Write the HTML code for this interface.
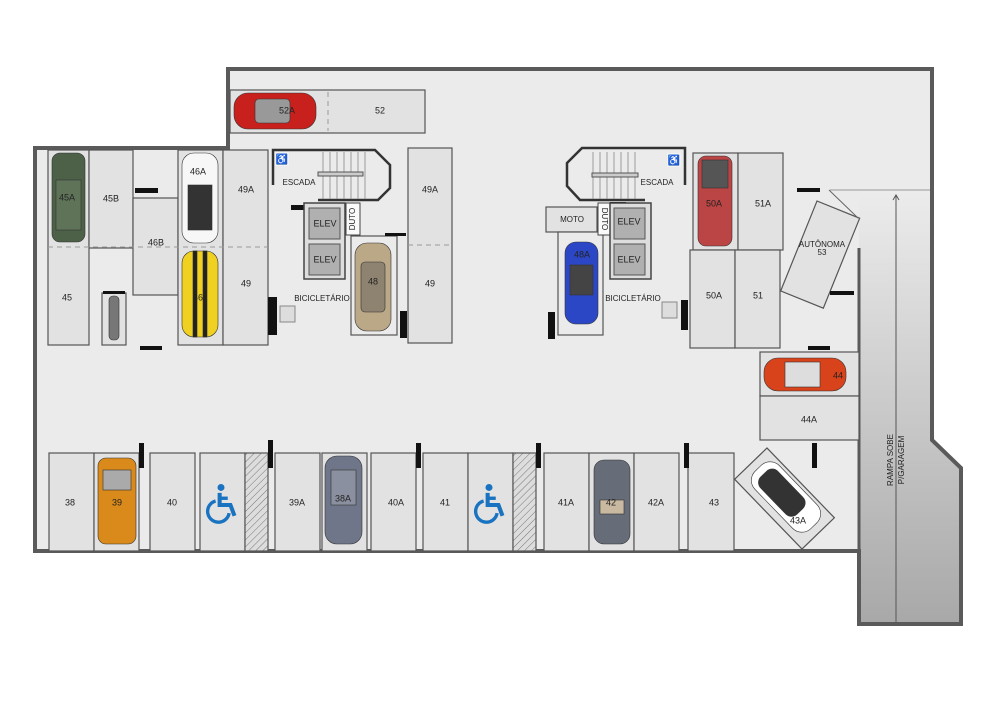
<!DOCTYPE html>
<html><head><meta charset="utf-8"><style>
html,body{margin:0;padding:0;background:#fff;}
svg{display:block;font-family:"Liberation Sans",sans-serif;}
text{font-size:9px;fill:#222;text-anchor:middle;dominant-baseline:middle;}
</style></head><body>
<svg width="1000" height="707" viewBox="0 0 1000 707" xmlns="http://www.w3.org/2000/svg">
<defs>
<pattern id="h" width="5" height="5" patternUnits="userSpaceOnUse" patternTransform="rotate(45)">
<rect width="5" height="5" fill="#ddd"/><line x1="0" y1="0" x2="0" y2="5" stroke="#777" stroke-width="1"/></pattern>
<linearGradient id="ramp" x1="0" y1="0" x2="0" y2="1"><stop offset="0" stop-color="#ececec"/><stop offset="1" stop-color="#a8a8a8"/></linearGradient>
<g id="wc"><circle cx="0" cy="-13" r="2.6" fill="#1a73c0"/><path d="M-1,-9 L-1,0 L7,0 L10,8" fill="none" stroke="#1a73c0" stroke-width="3"/><path d="M-4,-3 A8,8 0 1 0 6,6" fill="none" stroke="#1a73c0" stroke-width="2.5"/><path d="M-1,-5 L5,-5" stroke="#1a73c0" stroke-width="2.5"/></g>
</defs>
<path d="M35,148 L228,148 L228,69 L932,69 L932,440 L961,468 L961,624 L859,624 L859,551 L35,551 Z" fill="#ebebeb"/>
<path d="M859,248 L859,624 L961,624 L961,468 L932,440 L932,190 L859,190 Z" fill="url(#ramp)"/>
<line x1="830" y1="190" x2="932" y2="190" stroke="#999" stroke-width="1"/>
<line x1="896" y1="195" x2="896" y2="624" stroke="#555" stroke-width="1"/>
<path d="M893,200 L896,195 L899,200" fill="none" stroke="#555"/>
<text transform="translate(891,460) rotate(-90)" style="font-size:8px">RAMPA SOBE</text>
<text transform="translate(902,460) rotate(-90)" style="font-size:8px">P/GARAGEM</text>
<path d="M35,551 L35,148 L228,148 L228,69 L932,69 L932,440 L961,468 L961,624 L859,624 L859,551 Z" fill="none" stroke="#5a5a5a" stroke-width="4"/>
<line x1="859" y1="248" x2="859" y2="551" stroke="#5a5a5a" stroke-width="3"/>
<g fill="#e2e2e2" stroke="#555" stroke-width="1.2">
<rect x="230" y="90" width="195" height="43"/>
<rect x="48" y="150" width="41" height="195"/>
<rect x="89" y="150" width="44" height="98"/>
<rect x="133" y="198" width="45" height="97"/>
<rect x="178" y="150" width="45" height="195"/>
<rect x="223" y="150" width="45" height="195"/>
<rect x="102" y="293" width="24" height="52"/>
<rect x="408" y="148" width="44" height="195"/>
<rect x="351" y="236" width="46" height="99" fill="#ebebeb"/>
<rect x="546" y="207" width="51" height="25"/>
<rect x="558" y="232" width="45" height="103" fill="#ebebeb"/>
<rect x="693" y="153" width="45" height="97"/>
<rect x="738" y="153" width="45" height="97"/>
<rect x="690" y="250" width="45" height="98"/>
<rect x="735" y="250" width="45" height="98"/>
<rect x="760" y="352" width="99" height="44"/>
<rect x="760" y="396" width="99" height="44"/>
<rect x="0" y="0" width="46" height="97" transform="translate(817,201) rotate(22)"/>
<rect x="49" y="453" width="45" height="98"/>
<rect x="94" y="453" width="45" height="98"/>
<rect x="150" y="453" width="45" height="98"/>
<rect x="200" y="453" width="45" height="98"/>
<rect x="245" y="453" width="23" height="98" fill="url(#h)"/>
<rect x="275" y="453" width="45" height="98"/>
<rect x="322" y="453" width="45" height="98"/>
<rect x="371" y="453" width="45" height="98"/>
<rect x="423" y="453" width="45" height="98"/>
<rect x="468" y="453" width="45" height="98"/>
<rect x="513" y="453" width="23" height="98" fill="url(#h)"/>
<rect x="544" y="453" width="45" height="98"/>
<rect x="589" y="453" width="45" height="98"/>
<rect x="634" y="453" width="45" height="98"/>
<rect x="688" y="453" width="46" height="98"/>
<rect x="0" y="0" width="97" height="45" transform="translate(767,448) rotate(46)"/>
</g>
<g stroke="#999" stroke-dasharray="5,4" stroke-width="1">
<line x1="328" y1="92" x2="328" y2="131"/><line x1="48" y1="247" x2="268" y2="247"/><line x1="408" y1="245" x2="452" y2="245"/>
</g>
<g fill="#111">
<rect x="135" y="188" width="23" height="5"/><rect x="103" y="291" width="22" height="3"/><rect x="140" y="346" width="22" height="4"/>
<rect x="268" y="297" width="9" height="38"/><rect x="400" y="311" width="7" height="27"/><rect x="385" y="233" width="21" height="3"/>
<rect x="548" y="312" width="7" height="27"/><rect x="681" y="300" width="7" height="30"/><rect x="797" y="188" width="23" height="4"/>
<rect x="830" y="291" width="24" height="4"/><rect x="808" y="346" width="22" height="4"/>
<rect x="139" y="443" width="5" height="25"/><rect x="268" y="440" width="5" height="28"/><rect x="416" y="443" width="5" height="25"/>
<rect x="536" y="443" width="5" height="25"/><rect x="684" y="443" width="5" height="25"/><rect x="812" y="443" width="5" height="25"/>
<rect x="291" y="205" width="16" height="5"/><rect x="610" y="202" width="16" height="5"/>
</g>
<path d="M273,185 L273,150 L375,150 L390,165 L390,188 L378,200 L318,200" fill="none" stroke="#333" stroke-width="2.5"/>
<g stroke="#888" stroke-width="0.8"><line x1="323" y1="152" x2="323" y2="199"/><line x1="330" y1="152" x2="330" y2="199"/><line x1="337" y1="152" x2="337" y2="199"/><line x1="344" y1="152" x2="344" y2="199"/><line x1="351" y1="152" x2="351" y2="199"/><line x1="358" y1="152" x2="358" y2="199"/><line x1="365" y1="152" x2="365" y2="199"/></g>
<rect x="318" y="172" width="45" height="4" fill="#ccc" stroke="#555"/>
<rect x="275" y="152" width="14" height="14" fill="#f2f2f2"/><text x="282" y="160" style="font-size:10px">♿</text>
<text x="299" y="183" style="font-size:8px">ESCADA</text>
<rect x="304" y="203" width="41" height="76" fill="#ddd" stroke="#444" stroke-width="1.5"/>
<rect x="309" y="208" width="31" height="31" fill="#b0b0b0" stroke="#555"/><text x="325" y="224">ELEV</text>
<rect x="309" y="244" width="31" height="31" fill="#b0b0b0" stroke="#555"/><text x="325" y="260">ELEV</text>
<rect x="346" y="203" width="14" height="32" fill="#fafafa" stroke="#444"/><text transform="translate(353,219) rotate(-90)" style="font-size:8px">DUTO</text>
<text x="322" y="299" style="font-size:8px">BICICLETÁRIO</text>
<rect x="280" y="306" width="15" height="16" fill="#ddd" stroke="#888"/>
<path d="M685,185 L685,148 L582,148 L567,163 L567,186 L580,200 L645,200" fill="none" stroke="#333" stroke-width="2.5"/>
<g stroke="#888" stroke-width="0.8"><line x1="593" y1="152" x2="593" y2="199"/><line x1="600" y1="152" x2="600" y2="199"/><line x1="607" y1="152" x2="607" y2="199"/><line x1="614" y1="152" x2="614" y2="199"/><line x1="621" y1="152" x2="621" y2="199"/><line x1="628" y1="152" x2="628" y2="199"/><line x1="635" y1="152" x2="635" y2="199"/></g>
<rect x="592" y="173" width="46" height="4" fill="#ccc" stroke="#555"/>
<rect x="667" y="153" width="14" height="14" fill="#f2f2f2"/><text x="674" y="161" style="font-size:10px">♿</text>
<text x="657" y="183" style="font-size:8px">ESCADA</text>
<text x="572" y="220" style="font-size:8px">MOTO</text>
<rect x="598" y="203" width="12" height="32" fill="#fafafa" stroke="#444"/><text transform="translate(604,219) rotate(90)" style="font-size:8px">DUTO</text>
<rect x="610" y="203" width="41" height="76" fill="#ddd" stroke="#444" stroke-width="1.5"/>
<rect x="614" y="208" width="31" height="31" fill="#b0b0b0" stroke="#555"/><text x="629" y="222">ELEV</text>
<rect x="614" y="244" width="31" height="31" fill="#b0b0b0" stroke="#555"/><text x="629" y="260">ELEV</text>
<text x="633" y="299" style="font-size:8px">BICICLETÁRIO</text>
<rect x="662" y="302" width="15" height="16" fill="#ddd" stroke="#888"/>
<line x1="829" y1="190" x2="858" y2="218" stroke="#666"/>
<g stroke="#333" stroke-width="0.6">
<rect x="234" y="93" width="82" height="36" rx="14" fill="#c8211d"/><rect x="255" y="99" width="35" height="24" rx="4" fill="#999"/>
<rect x="52" y="153" width="33" height="89" rx="8" fill="#4d6048"/><rect x="56" y="180" width="25" height="50" fill="#5f7359"/>
<rect x="182" y="153" width="36" height="90" rx="12" fill="#f7f7f7"/><rect x="188" y="185" width="24" height="45" fill="#333"/>
<rect x="182" y="251" width="36" height="86" rx="12" fill="#f0d020"/><rect x="193" y="251" width="4" height="86" fill="#222"/><rect x="203" y="251" width="4" height="86" fill="#222"/>
<rect x="355" y="243" width="36" height="88" rx="12" fill="#bba887"/><rect x="361" y="262" width="24" height="50" rx="4" fill="#8e8270"/>
<rect x="565" y="242" width="33" height="82" rx="11" fill="#2c47c5"/><rect x="570" y="265" width="23" height="30" fill="#444"/>
<rect x="698" y="156" width="34" height="90" rx="8" fill="#bb4444"/><rect x="702" y="160" width="26" height="28" fill="#555"/>
<rect x="764" y="358" width="82" height="33" rx="14" fill="#d9431b"/><rect x="785" y="362" width="35" height="25" fill="#ddd"/>
<rect x="98" y="458" width="38" height="86" rx="8" fill="#d98a1a"/><rect x="103" y="470" width="28" height="20" fill="#aaa"/>
<rect x="325" y="456" width="37" height="88" rx="12" fill="#6f7689"/><rect x="331" y="470" width="25" height="35" fill="#8b90a0"/>
<rect x="594" y="460" width="36" height="84" rx="10" fill="#666d78"/><rect x="600" y="500" width="24" height="14" fill="#c8b9a0"/>
<g transform="translate(786,497) rotate(-44)"><rect x="-17" y="-40" width="34" height="80" rx="13" fill="#fff"/><rect x="-12" y="-32" width="24" height="52" rx="8" fill="#333"/></g>
<g transform="translate(114,318)"><rect x="-5" y="-22" width="10" height="44" rx="4" fill="#777"/></g>
</g>
<text x="287" y="111">52A</text><text x="380" y="111">52</text>
<text x="67" y="198">45A</text><text x="111" y="199">45B</text><text x="156" y="243">46B</text>
<text x="198" y="172">46A</text><text x="198" y="298">46</text><text x="246" y="190">49A</text><text x="246" y="284">49</text>
<text x="67" y="298">45</text><text x="430" y="190">49A</text><text x="430" y="284">49</text><text x="373" y="282">48</text>
<text x="582" y="255">48A</text><text x="714" y="204">50A</text><text x="763" y="204">51A</text>
<text x="714" y="296">50A</text><text x="758" y="296">51</text>
<text x="822" y="245" style="font-size:8px">AUTÔNOMA</text><text x="822" y="253" style="font-size:8px">53</text>
<text x="838" y="376">44</text><text x="809" y="420">44A</text>
<text x="70" y="503">38</text><text x="117" y="503">39</text><text x="172" y="503">40</text>
<text x="297" y="503">39A</text><text x="343" y="499">38A</text><text x="396" y="503">40A</text><text x="445" y="503">41</text>
<text x="566" y="503">41A</text><text x="611" y="503">42</text><text x="656" y="503">42A</text><text x="714" y="503">43</text><text x="798" y="521">43A</text>
<use href="#wc" transform="translate(221,505) scale(1.35)"/><use href="#wc" transform="translate(489,505) scale(1.35)"/>
</svg>
</body></html>
